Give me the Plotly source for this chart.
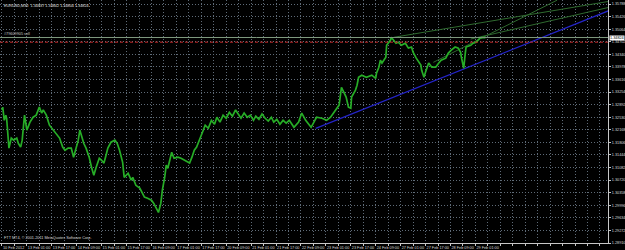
import plotly.graph_objects as go

# ---- data (M30 bars counted from 10 Feb 2012 09:00) ----
bar = [0, 1, 3, 5, 6, 8, 9, 12, 15, 19, 21, 24, 26, 28, 29, 32, 36, 40, 44, 48,
       51, 53, 57, 61, 66, 70, 74, 78, 81, 85, 89, 92, 95, 98, 100, 102, 105, 108, 112, 115,
       118, 121, 125, 128, 131, 133, 136, 140, 145, 148, 151, 155, 157, 162, 166, 168, 172, 177, 180, 183,
       187, 192, 195, 198, 201, 204, 206, 209, 211, 213, 216, 218, 221, 226, 230, 234, 238, 241, 244, 247,
       250, 253, 257, 261, 265, 269, 273, 276, 280, 284, 288, 292, 296, 300, 303, 307, 311, 315, 319, 323,
       326, 330, 334, 338, 342, 346, 349, 353, 357, 361, 365, 369, 375, 381, 385, 390, 397, 401, 404, 411,
       417, 422, 426, 430, 433, 435, 436, 442, 445, 448, 449, 454, 456, 458, 462, 468, 475, 480, 481, 484,
       486, 488, 493, 494, 497, 499, 500, 506, 509, 513, 518, 522, 526, 528, 532, 538, 539, 542, 544, 548,
       552, 557, 561, 564, 570, 573, 577, 582, 586, 589, 590, 593, 595, 596, 602, 605, 609, 614, 618, 621]
close = [1.3274, 1.3282, 1.3244, 1.3259, 1.3250, 1.3187, 1.3164, 1.3193, 1.3187, 1.3193,
         1.3178, 1.3167, 1.3187, 1.3236, 1.3259, 1.3216, 1.3239, 1.3253, 1.3259, 1.3282,
         1.3265, 1.3274, 1.3259, 1.3230, 1.3216, 1.3207, 1.3193, 1.3167, 1.3158, 1.3164,
         1.3164, 1.3138, 1.3164, 1.3187, 1.3216, 1.3201, 1.3178, 1.3164, 1.3138, 1.3109,
         1.3086, 1.3109, 1.3135, 1.3129, 1.3121, 1.3138, 1.3164, 1.3181, 1.3187, 1.3178,
         1.3158, 1.3123, 1.3080, 1.3092, 1.3072, 1.3080, 1.3057, 1.3049, 1.3034, 1.3023,
         1.3020, 1.3014, 1.3005, 1.2994, 1.2979, 1.3005, 1.3043, 1.3080, 1.3115, 1.3106,
         1.3138, 1.3152, 1.3135, 1.3138, 1.3135, 1.3129, 1.3123, 1.3121, 1.3138, 1.3158,
         1.3167, 1.3187, 1.3207, 1.3230, 1.3221, 1.3244, 1.3233, 1.3253, 1.3239, 1.3259,
         1.3250, 1.3267, 1.3256, 1.3274, 1.3262, 1.3250, 1.3265, 1.3253, 1.3259, 1.3244,
         1.3256, 1.3247, 1.3262, 1.3250, 1.3242, 1.3253, 1.3239, 1.3247, 1.3233, 1.3244,
         1.3236, 1.3244, 1.3224, 1.3239, 1.3265, 1.3244, 1.3224, 1.3239, 1.3253, 1.3250,
         1.3244, 1.3253, 1.3265, 1.3279, 1.3288, 1.3322, 1.3339, 1.3311, 1.3282, 1.3279,
         1.3311, 1.3331, 1.3345, 1.3368, 1.3374, 1.3368, 1.3374, 1.3365, 1.3380, 1.3397,
         1.3417, 1.3409, 1.3426, 1.3460, 1.3469, 1.3475, 1.3483, 1.3466, 1.3469, 1.3460,
         1.3466, 1.3452, 1.3455, 1.3440, 1.3423, 1.3403, 1.3388, 1.3368, 1.3383, 1.3409,
         1.3397, 1.3397, 1.3409, 1.3417, 1.3423, 1.3437, 1.3446, 1.3455, 1.3452, 1.3440,
         1.3426, 1.3394, 1.3437, 1.3455, 1.3460, 1.3466, 1.3469, 1.3481, 1.3483, 1.3482]

time_labels = ["10 Feb 2012", "13 Feb 01:00", "13 Feb 17:00", "14 Feb 09:00", "15 Feb 01:00",
               "15 Feb 17:00", "16 Feb 09:00", "17 Feb 01:00", "17 Feb 17:00", "20 Feb 09:00",
               "21 Feb 01:00", "21 Feb 17:00", "22 Feb 09:00", "23 Feb 01:00", "23 Feb 17:00",
               "24 Feb 09:00", "27 Feb 01:00", "27 Feb 17:00", "28 Feb 09:00", "29 Feb 01:00"]
price_labels = ["1.28910", "1.29272", "1.29634", "1.29996", "1.30358", "1.30720", "1.31082",
                "1.31444", "1.31806", "1.32168", "1.32530", "1.32892", "1.33254", "1.33616",
                "1.33978", "1.34340", "1.34702", "1.35064", "1.35426", "1.35788"]

bid_price = 1.34824
red_level = 1.34690
header = "EURUSD,M30  1.34837 1.34842 1.34804 1.34824"
order_text = "#79609905 sell"
copyright_text = "FTT MT4, © 2001-2011 MetaQuotes Software Corp."

# trend lines (bar, price)
blue_bar = [403, 781]
blue_price = [1.3221, 1.3561]
tl_a_bar = [554, 713]
tl_a_price = [1.3411, 1.3590]
tl_b_bar = [503, 781]
tl_b_price = [1.3483, 1.3587]
tl_c_bar = [602, 781]
tl_c_price = [1.3478, 1.3570]

FONT = "Liberation Sans, Arial, sans-serif"
FS = 3.8
GRID = "#5f6b78"

fig = go.Figure()
for bx, py in [(tl_a_bar, tl_a_price), (tl_b_bar, tl_b_price), (tl_c_bar, tl_c_price)]:
    fig.add_trace(go.Scatter(x=bx, y=py, mode="lines", line=dict(color="#2f6a2f", width=1),
                             hoverinfo="skip", showlegend=False))
fig.add_trace(go.Scatter(x=blue_bar, y=blue_price, mode="lines",
                         line=dict(color="#2424c8", width=1.3), showlegend=False))
fig.add_trace(go.Scatter(x=bar, y=close, mode="lines",
                         line=dict(color="#27ad27", width=1.7), showlegend=False))

# horizontal level lines
fig.add_shape(type="line", xref="paper", x0=0, x1=1, yref="y", y0=bid_price, y1=bid_price,
              line=dict(color="#7f9a7f", width=1))
fig.add_shape(type="line", xref="paper", x0=0, x1=1, yref="y", y0=red_level, y1=red_level,
              line=dict(color="#c02828", width=1, dash="3px,2px"))

xtickvals = list(range(0, 769, 16))
xticktext = []
for v in xtickvals:
    k = v // 32
    xticktext.append(time_labels[k] if v % 32 == 0 and k < len(time_labels) else "")

fig.update_layout(
    width=625, height=250,
    margin=dict(l=0, r=15, t=0, b=7),
    paper_bgcolor="black", plot_bgcolor="black",
    font=dict(family=FONT, size=FS, color="#d8d8d8"),
    xaxis=dict(range=[-2.5, 778.3], tickmode="array", tickvals=xtickvals, ticktext=xticktext,
               tickangle=0,
               showgrid=True, gridcolor=GRID, griddash="1px,2px", gridwidth=1,
               showline=True, linecolor="#c8c8c8", linewidth=1,
               ticks="outside", ticklen=2, tickcolor="#c8c8c8",
               ticklabelposition="outside right",
               tickfont=dict(size=FS, color="#d8d8d8", family=FONT),
               zeroline=False, fixedrange=True),
    yaxis=dict(range=[1.28910, 1.35904], side="right", tickmode="array",
               tickvals=[float(s) for s in price_labels], ticktext=price_labels,
               showgrid=True, gridcolor=GRID, griddash="1px,2px", gridwidth=1,
               showline=True, linecolor="#c8c8c8", linewidth=1,
               ticks="outside", ticklen=2, tickcolor="#c8c8c8",
               tickfont=dict(size=FS, color="#d8d8d8", family=FONT),
               zeroline=False, fixedrange=True),
    annotations=[
        dict(xref="paper", yref="paper", x=0, y=1, xanchor="left", yanchor="top",
             text=header, showarrow=False, xshift=2, yshift=-2,
             font=dict(size=FS, color="#e0e0e0", family=FONT)),
        dict(xref="paper", yref="y", x=0, y=bid_price, xanchor="left", yanchor="bottom",
             text=order_text, showarrow=False, xshift=2, yshift=0,
             font=dict(size=FS, color="#c8c8c8", family=FONT)),
        dict(xref="paper", yref="paper", x=0, y=0, xanchor="left", yanchor="bottom",
             text=copyright_text, showarrow=False, xshift=2, yshift=1,
             font=dict(size=FS, color="#d8d8d8", family=FONT)),
        dict(xref="paper", yref="y", x=1, y=bid_price, xanchor="left", yanchor="middle",
             text=f"{bid_price:.5f}", showarrow=False, xshift=1, bgcolor="white",
             borderpad=0, font=dict(size=FS, color="black", family=FONT)),
    ],
)

fig.write_html("out.html")
